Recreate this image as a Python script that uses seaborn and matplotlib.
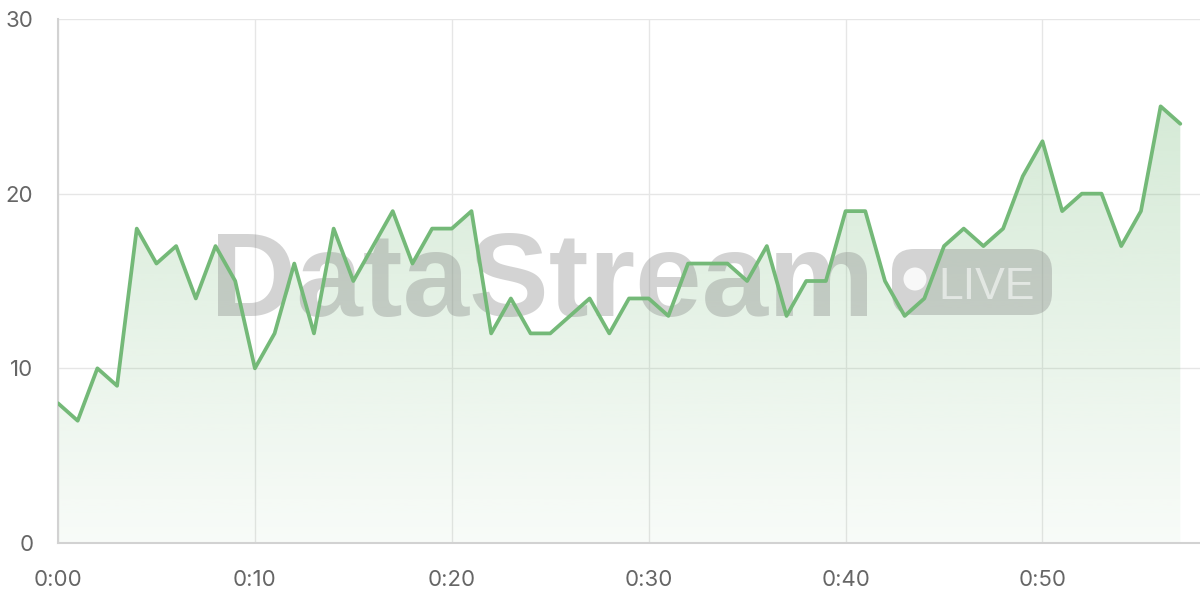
import numpy as np
import pandas as pd
import matplotlib
matplotlib.use("Agg")
import matplotlib.pyplot as plt
import seaborn as sns
from matplotlib.patches import FancyBboxPatch, Circle

# ---- data ----
minutes = list(range(58))
values = [8, 7, 10, 9, 18, 16, 17, 14, 17, 15,
          10, 12, 16, 12, 18, 15, 17, 19, 16, 18,
          18, 19, 12, 14, 12, 12, 13, 14, 12, 14,
          14, 13, 16, 16, 16, 15, 17, 13, 15, 15,
          19, 19, 15, 13, 14, 17, 18, 17, 18, 21,
          23, 19, 20, 20, 17, 19, 25, 24]
x_ticks = [0, 10, 20, 30, 40, 50]
x_tick_labels = ["0:00", "0:10", "0:20", "0:30", "0:40", "0:50"]
y_ticks = [0, 10, 20, 30]
watermark = "DataStream"
badge = "LIVE"

LINE = "#74b978"
GRID = "#e6e6e6"
SPINE = "#d2d2d2"
TXT = "#666666"

sns.set_theme(style="white")
plt.rcParams["font.family"] = ["Inter", "DejaVu Sans"]

fig = plt.figure(figsize=(12, 6), dpi=100)
ax = fig.add_axes([58 / 1200, 57 / 600, 1 - 58 / 1200, (543 - 19) / 600])

df = pd.DataFrame({"minute": minutes, "value": values})

# gradient fill under the line
ymax = max(values)
grad = np.linspace(0.05, 0.30, 256).reshape(-1, 1)
rgba = np.zeros((256, 1, 4))
rgba[..., :3] = matplotlib.colors.to_rgb(LINE)
rgba[..., 3] = grad[:, :]
poly = ax.fill_between(df["minute"], df["value"], 0, color="none", lw=0)
img = ax.imshow(rgba, extent=[min(minutes), max(minutes), 0, ymax],
                origin="lower", aspect="auto", zorder=1, interpolation="bicubic")
path = poly.get_paths()[0]
img.set_clip_path(path, transform=ax.transData)

sns.lineplot(data=df, x="minute", y="value", ax=ax, color=LINE,
             linewidth=2.7, zorder=4)

ax.set_xlim(0, 58)
ax.set_ylim(0, 30)
ax.set_xticks(x_ticks)
ax.set_xticklabels(x_tick_labels)
ax.set_yticks(y_ticks)
ax.set_xlabel("")
ax.set_ylabel("")

ax.grid(True, color=GRID, linewidth=1.0, zorder=0)
ax.set_axisbelow(True)
for s in ["top", "right"]:
    ax.spines[s].set_visible(False)
for s in ["left", "bottom"]:
    ax.spines[s].set_color(SPINE)
    ax.spines[s].set_linewidth(1.5)
ax.tick_params(axis="both", which="both", length=10.8, width=1.0, color=GRID,
               labelcolor=TXT, labelsize=16)
ax.tick_params(axis="y", pad=7)
ax.tick_params(axis="x", pad=9)

# watermark
wm_color = (0.5, 0.5, 0.5, 0.34)
ax.text(2.10, 6 - 3.16, watermark, transform=fig.dpi_scale_trans,
        fontsize=86, fontweight="bold", family=["Liberation Sans", "DejaVu Sans"],
        color=wm_color, va="baseline", ha="left", zorder=3)
box = FancyBboxPatch((8.92, 6 - 3.15), 1.60, 0.66,
                     boxstyle="round,pad=0,rounding_size=0.22",
                     transform=fig.dpi_scale_trans, facecolor=wm_color,
                     edgecolor="none", zorder=3)
ax.add_patch(box)
box.set_clip_on(False)
dot = Circle((9.15, 6 - 2.79), 0.115, transform=fig.dpi_scale_trans,
             facecolor=(1, 1, 1, 0.85), edgecolor="none", zorder=3)
ax.add_patch(dot)
dot.set_clip_on(False)
ax.text(9.38, 6 - 2.99, badge, transform=fig.dpi_scale_trans,
        fontsize=32, family=["Liberation Sans", "DejaVu Sans"],
        color=(1, 1, 1, 0.55), va="baseline", ha="left", zorder=3)

fig.savefig("out.png", dpi=100)
